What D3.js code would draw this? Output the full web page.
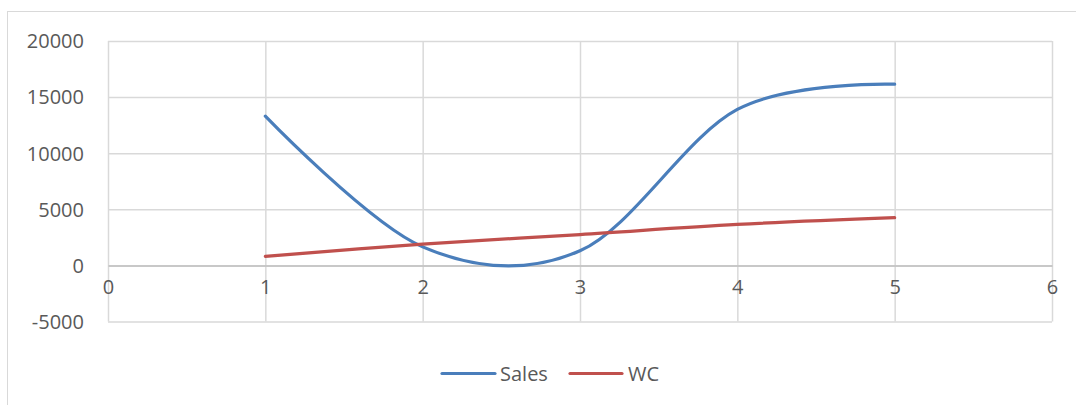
<!DOCTYPE html>
<html>
<head>
<meta charset="utf-8">
<script src="https://cdn.jsdelivr.net/npm/d3@7"></script>
<style>
  html, body { margin: 0; padding: 0; background: #fff; }
  svg { display: block; }
  text { font-family: "Open Sans", "Noto Sans", sans-serif; fill: #595959; }
</style>
</head>
<body>
<svg id="chart" width="1076" height="405"></svg>
<script>
const xValues = [1, 2, 3, 4, 5];
const salesValues = [13300, 1650, 1300, 13900, 16150];
const wcValues = [800, 1900, 2750, 3650, 4250];
const xTicks = [0, 1, 2, 3, 4, 5, 6];
const yTicks = [-5000, 0, 5000, 10000, 15000, 20000];
const seriesNames = ["Sales", "WC"];
const seriesColors = ["#4a7ebb", "#c0504d"];

const svg = d3.select("#chart");
const margin = { left: 108, right: 1052, top: 41, bottom: 321.5 };

// chart area border
svg.append("rect")
  .attr("x", 7.5).attr("y", 11.5)
  .attr("width", 1100).attr("height", 420)
  .attr("fill", "none").attr("stroke", "#d9d9d9").attr("stroke-width", 1);

const x = d3.scaleLinear().domain([0, 6]).range([margin.left, margin.right]);
const y = d3.scaleLinear().domain([-5000, 20000]).range([margin.bottom, margin.top]);

const plainFormat = d => String(d);

// horizontal gridlines
const yAxis = d3.axisLeft(y).tickValues(yTicks).tickSize(-(margin.right - margin.left)).tickPadding(24).tickFormat(plainFormat);
const gy = svg.append("g").attr("transform", `translate(${margin.left},0)`).call(yAxis);
gy.select(".domain").remove();
gy.selectAll(".tick line").attr("stroke", "#d9d9d9").attr("stroke-width", 1.5);
gy.selectAll(".tick text").attr("font-size", 20).attr("fill", "#595959").attr("dy", "0.34em")
  .style("font-family", '"Open Sans", sans-serif');

// vertical gridlines
const xGrid = d3.axisBottom(x).tickValues(xTicks).tickSize(-(margin.bottom - margin.top)).tickFormat("");
const gxg = svg.append("g").attr("transform", `translate(0,${margin.bottom})`).call(xGrid);
gxg.select(".domain").remove();
gxg.selectAll(".tick line").attr("stroke", "#d9d9d9").attr("stroke-width", 1.5);

// x axis at y=0
const xAxis = d3.axisBottom(x).tickValues(xTicks).tickSize(0).tickPadding(14).tickFormat(plainFormat);
const gx = svg.append("g").attr("transform", `translate(0,${y(0)})`).call(xAxis);
gx.select(".domain").attr("stroke", "#bfbfbf").attr("stroke-width", 1.5);
gx.selectAll(".tick text").attr("font-size", 20).attr("fill", "#595959")
  .style("font-family", '"Open Sans", sans-serif');

// series lines
const line = d3.line().x(d => x(d[0])).y(d => y(d[1])).curve(d3.curveCardinal.tension(0));
const seriesData = [salesValues, wcValues];
seriesData.forEach((vals, i) => {
  svg.append("path")
    .datum(xValues.map((xv, j) => [xv, vals[j]]))
    .attr("d", line)
    .attr("fill", "none")
    .attr("stroke", seriesColors[i])
    .attr("stroke-width", 3.2)
    .attr("stroke-linecap", "round");
});

// legend
const legendItems = [{ x1: 442, x2: 495, tx: 500 }, { x1: 570, x2: 622, tx: 628 }];
const ly = 373.5;
seriesNames.forEach((name, i) => {
  const it = legendItems[i];
  svg.append("line").attr("x1", it.x1).attr("x2", it.x2).attr("y1", ly).attr("y2", ly)
    .attr("stroke", seriesColors[i]).attr("stroke-width", 3.2).attr("stroke-linecap", "round");
  svg.append("text").attr("x", it.tx).attr("y", ly).attr("dy", "0.35em")
    .attr("font-size", 20).text(name);
});
</script>
</body>
</html>
